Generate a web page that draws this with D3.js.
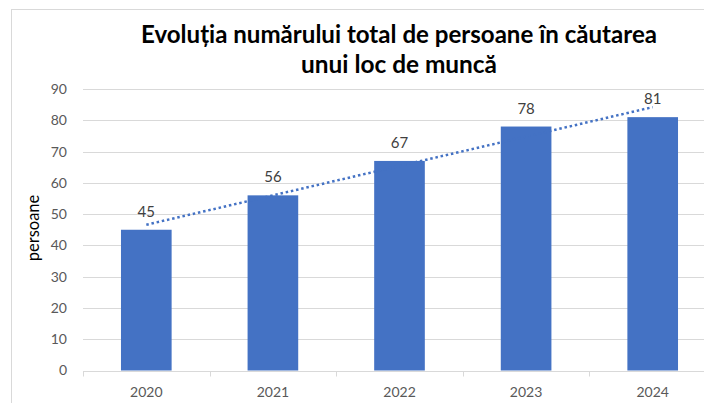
<!DOCTYPE html>
<html>
<head>
<meta charset="utf-8">
<script src="https://cdn.jsdelivr.net/npm/d3@7"></script>
<style>
  html, body { margin: 0; padding: 0; background: #fff; overflow: hidden; }
  svg { display: block; }
</style>
</head>
<body>
<svg id="chart" width="704" height="403"></svg>
<script>
const titleLines = ["Evoluția numărului total de persoane în căutarea", "unui loc de muncă"];
const years = ["2020", "2021", "2022", "2023", "2024"];
const values = [45, 56, 67, 78, 81];
const yTicks = [0, 10, 20, 30, 40, 50, 60, 70, 80, 90];
const yLabel = "persoane";

const svg = d3.select("#chart");
const font = "Lato, 'Open Sans', 'DejaVu Sans', sans-serif";

// chart border (cropped at right/bottom like reference)
svg.append("rect").attr("x", 11.5).attr("y", 9.5).attr("width", 760).attr("height", 460)
  .attr("fill", "#fff").attr("stroke", "#d9d9d9").attr("stroke-width", 1);

const x = d3.scaleBand().domain(years).range([83, 716]).paddingInner(0.6).paddingOuter(0.3);
const y = d3.scaleLinear().domain([0, 90]).range([370.5, 89]);

// gridlines
svg.append("g").selectAll("line").data(yTicks.filter(d => d > 0)).join("line")
  .attr("x1", 83).attr("x2", 716)
  .attr("y1", d => Math.round(y(d)) + 0.5).attr("y2", d => Math.round(y(d)) + 0.5)
  .attr("stroke", "#d9d9d9").attr("stroke-width", 1);

// y axis labels
const yAxis = d3.axisLeft(y).tickValues(yTicks).tickSize(0).tickPadding(16);
const gy = svg.append("g").attr("transform", "translate(83,0)").call(yAxis);
gy.select(".domain").remove();
gy.selectAll("text").attr("font-family", font).attr("font-size", 14).attr("fill", "#595959");

// bars
svg.append("g").selectAll("rect").data(values).join("rect")
  .attr("x", (d, i) => x(years[i]))
  .attr("y", d => y(d))
  .attr("width", x.bandwidth())
  .attr("height", d => y(0) - y(d))
  .attr("fill", "#4472C4");

// x axis
const xAxis = d3.axisBottom(x).tickSize(0).tickPadding(16);
const gx = svg.append("g").attr("transform", `translate(0,${Math.round(y(0)) + 0.5})`).call(xAxis);
gx.select(".domain").attr("stroke", "#d9d9d9").attr("d", "M83,0H716");
gx.selectAll("text").attr("font-family", font).attr("font-size", 14).attr("fill", "#595959");
// category boundary ticks
const step = x.step();
const bounds = years.map((d, i) => x(d) - (step - x.bandwidth()) / 2);
bounds.push(x(years[years.length - 1]) + x.bandwidth() + (step - x.bandwidth()) / 2);
gx.append("g").selectAll("line").data(bounds).join("line")
  .attr("x1", d => Math.round(d) + 0.5).attr("x2", d => Math.round(d) + 0.5)
  .attr("y1", 0).attr("y2", 5).attr("stroke", "#d9d9d9");

// linear trendline (least squares over the bar values, as in the source chart)
const n = values.length;
const xs = values.map((_, i) => i + 1);
const mx = d3.mean(xs), my = d3.mean(values);
const slope = d3.sum(xs.map((xi, i) => (xi - mx) * (values[i] - my))) / d3.sum(xs.map(xi => (xi - mx) ** 2));
const icpt = my - slope * mx;
const trend = [1, n].map(k => [x(years[k - 1]) + x.bandwidth() / 2, y(icpt + slope * k)]);
svg.append("path").attr("d", d3.line()(trend))
  .attr("fill", "none").attr("stroke", "#4472C4").attr("stroke-width", 2.5)
  .attr("stroke-dasharray", "2.5 2.8");

// data labels
svg.append("g").selectAll("text").data(values).join("text")
  .attr("x", (d, i) => x(years[i]) + x.bandwidth() / 2)
  .attr("y", d => y(d) - 13)
  .attr("text-anchor", "middle")
  .attr("font-family", font).attr("font-size", 15).attr("fill", "#404040")
  .text(d => d);

// y axis title
svg.append("text")
  .attr("transform", "translate(39,228) rotate(-90)")
  .attr("text-anchor", "middle")
  .attr("font-family", font).attr("font-size", 16.5).attr("fill", "#000")
  .text(yLabel);

// title
const titleX = 399;
const tBase = [43, 73];
const targetW = [516, 196];
titleLines.forEach((t, i) => {
  const el = svg.append("text")
    .attr("x", titleX).attr("y", tBase[i])
    .attr("text-anchor", "middle")
    .attr("font-family", font).attr("font-weight", "bold").attr("font-size", 24)
    .attr("fill", "#000").text(t);
  const w = el.node().getComputedTextLength();
  const r = targetW[i] / w;
  if (r > 0.8 && r < 1.25) {
    el.attr("textLength", targetW[i]).attr("lengthAdjust", "spacingAndGlyphs");
  }
});
</script>
</body>
</html>
